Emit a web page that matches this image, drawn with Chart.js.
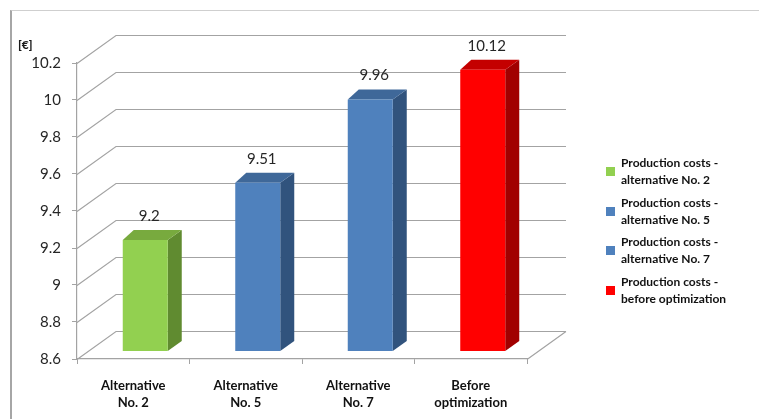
<!DOCTYPE html>
<html>
<head>
<meta charset="utf-8">
<script src="https://cdn.jsdelivr.net/npm/chart.js@4.4.1/dist/chart.umd.min.js"></script>
<style>
  html, body { margin: 0; padding: 0; background: #fff; }
  #wrap { position: relative; width: 759px; height: 419px; overflow: hidden; }
  #frame { position: absolute; left: 10px; top: 10px; width: 800px; height: 500px;
           border-left: 2px solid #a6a6a6; border-top: 1px solid #cfcfcf; }
  canvas { position: absolute; left: 0; top: 0; }
  #unit { position: absolute; left: 18px; top: 37px; font: 900 12px Lato, sans-serif; color: #1a1a1a; }
  .lg { position: absolute; left: 621px; font: bold 12px Lato, sans-serif; line-height: 17px; color: #111; white-space: nowrap; }
  .sw { position: absolute; left: 606px; width: 9px; height: 9px; }
</style>
</head>
<body>
<div id="wrap">
  <div id="frame"></div>
  <canvas id="c" width="759" height="419"></canvas>
  <div id="unit">[€]</div>
  <div id="legend"></div>
</div>
<script>
// ---- data ----
const categories = [["Alternative", "No. 2"], ["Alternative", "No. 5"], ["Alternative", "No. 7"], ["Before", "optimization"]];
const costValues = [9.2, 9.51, 9.96, 10.12];
const legendLabels = [
  ["Production costs -", "alternative No. 2"],
  ["Production costs -", "alternative No. 5"],
  ["Production costs -", "alternative No. 7"],
  ["Production costs -", "before optimization"]
];
const yTickValues = [8.6, 8.8, 9, 9.2, 9.4, 9.6, 9.8, 10, 10.2];

// ---- styles ----
const frontColors = ["#92d050", "#4f81bd", "#4f81bd", "#ff0000"];
const topColors   = ["#78aa3e", "#3f6899", "#3f6899", "#c40000"];
const sideColors  = ["#608b30", "#31537d", "#31537d", "#a10000"];
const gridColor = "#a3a3a3";

const DX = 12, DY = -8;          // bar plane offset from front plane
const BX = 39, BY = -28;         // back wall offset from front plane
const TDXL = 11, TDXR = 14, TDY = -10; // bar depth

const threeD = {
  id: "threeD",
  beforeDatasetsDraw(chart) {
    const ctx = chart.ctx, ca = chart.chartArea, y = chart.scales.y;
    ctx.save();
    ctx.strokeStyle = gridColor;
    ctx.lineWidth = 1.2;
    ctx.beginPath();
    yTickValues.forEach(v => {
      const yy = Math.round(y.getPixelForValue(v)) + 0.5;
      ctx.moveTo(ca.left, yy);
      ctx.lineTo(ca.left + BX, yy + BY);
      ctx.lineTo(ca.right + BX, yy + BY);
    });
    const yb = Math.round(ca.bottom) + 0.5;
    ctx.moveTo(ca.right, yb);
    ctx.lineTo(ca.right + BX, yb + BY);
    ctx.stroke();
    // bar sides and tops
    const meta = chart.getDatasetMeta(0);
    meta.data.forEach((bar, i) => {
      const p = bar.getProps(["x", "y", "base", "width"], true);
      const l = p.x - p.width / 2 + DX, r = p.x + p.width / 2 + DX;
      const t = p.y + DY, b = Math.min(p.base, ca.bottom) + DY;
      ctx.fillStyle = sideColors[i];
      ctx.beginPath();
      ctx.moveTo(r, t); ctx.lineTo(r + TDXR, t + TDY); ctx.lineTo(r + TDXR, b + TDY); ctx.lineTo(r, b);
      ctx.closePath(); ctx.fill();
      ctx.fillStyle = topColors[i];
      ctx.beginPath();
      ctx.moveTo(l, t); ctx.lineTo(l + TDXL, t + TDY); ctx.lineTo(r + TDXR, t + TDY); ctx.lineTo(r, t);
      ctx.closePath(); ctx.fill();
    });
    ctx.restore();
    ctx.save();
    ctx.translate(DX, DY);
  },
  afterDatasetsDraw(chart) {
    const ctx = chart.ctx;
    ctx.restore();
    ctx.save();
    ctx.font = "15px Lato, sans-serif";
    ctx.fillStyle = "#262626";
    ctx.textAlign = "center";
    ctx.textBaseline = "alphabetic";
    const meta = chart.getDatasetMeta(0);
    meta.data.forEach((bar, i) => {
      const p = bar.getProps(["x", "y"], true);
      ctx.fillText(String(costValues[i]), p.x + DX + 4, p.y + DY - 19);
    });
    ctx.restore();
  }
};

new Chart(document.getElementById("c"), {
  type: "bar",
  data: {
    labels: categories,
    datasets: [{
      data: costValues,
      backgroundColor: frontColors,
      borderWidth: 0,
      barPercentage: 0.4,
      categoryPercentage: 1.0
    }]
  },
  options: {
    responsive: false,
    animation: false,
    devicePixelRatio: 1,
    layout: { padding: { left: 0, top: 63, right: 232, bottom: 0 } },
    plugins: { legend: { display: false }, tooltip: { enabled: false } },
    scales: {
      x: {
        afterFit(s) { s.height = 60; },
        grid: { display: true, drawOnChartArea: false, drawTicks: true, tickLength: 5, color: gridColor, offset: true },
        border: { display: true, color: gridColor, width: 1.2 },
        ticks: { color: "#111", font: { family: "Lato", weight: "bold", size: 13, lineHeight: 1.3 }, padding: 13, maxRotation: 0, autoSkip: false }
      },
      y: {
        min: 8.6, max: 10.2,
        afterFit(s) { s.width = 77; },
        afterBuildTicks(s) { s.ticks = yTickValues.map(v => ({ value: v })); },
        grid: { display: true, drawOnChartArea: false, drawTicks: true, tickLength: 5, color: gridColor },
        border: { display: true, color: gridColor, width: 1.2 },
        ticks: { color: "#262626", font: { family: "Lato", size: 15 }, padding: 11, callback: v => String(v) }
      }
    }
  },
  plugins: [threeD]
});

// HTML legend
const lg = document.getElementById("legend");
const legendTops = [154, 193.5, 233, 272.5];
legendLabels.forEach((lines, i) => {
  const t = document.createElement("div");
  t.className = "lg";
  t.style.top = legendTops[i] + "px";
  t.innerHTML = lines.join("<br>");
  lg.appendChild(t);
  const s = document.createElement("div");
  s.className = "sw";
  s.style.top = (legendTops[i] + 13) + "px";
  s.style.background = frontColors[i];
  lg.appendChild(s);
});
</script>
</body>
</html>
